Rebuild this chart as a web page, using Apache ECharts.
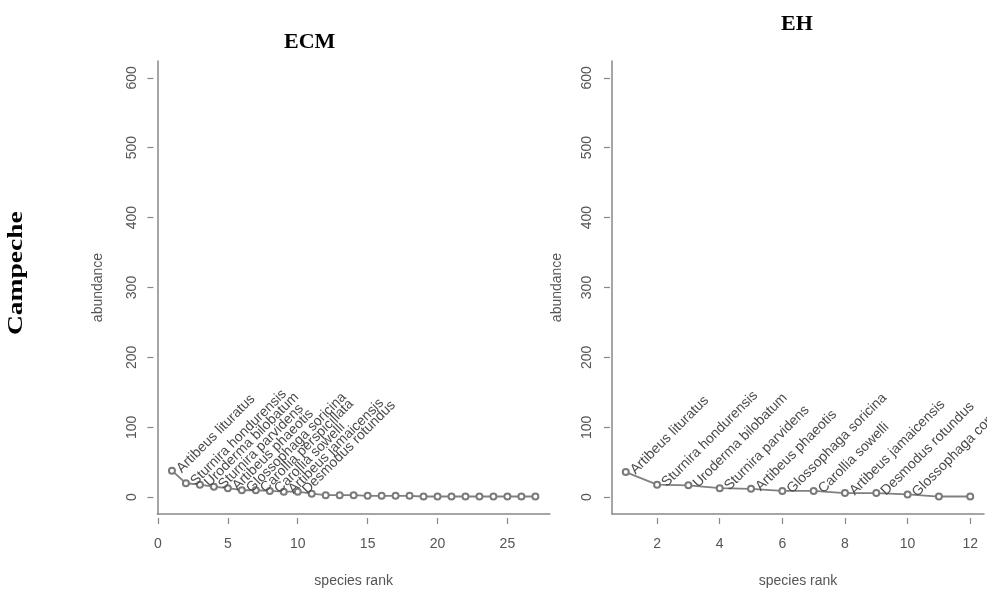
<!DOCTYPE html>
<html>
<head>
<meta charset="utf-8">
<title>Rank-abundance curves, Campeche</title>
<script src="https://cdn.jsdelivr.net/npm/echarts@6/dist/echarts.min.js"></script>
<style>
  html, body { margin: 0; padding: 0; background: #fff; }
  #chart { width: 987px; height: 590px; }
</style>
</head>
<body>
<div id="chart"></div>
<script>
// ECM panel: abundance by species rank
const ecmRanks = [1,2,3,4,5,6,7,8,9,10,11,12,13,14,15,16,17,18,19,20,21,22,23,24,25,26,27];
const ecmAbundance = [38,20,18,15,13,10,10,9,8,8,5,3,3,3,2,2,2,2,1,1,1,1,1,1,1,1,1];
const ecmSpecies = [
  'Artibeus lituratus', 'Sturnira hondurensis', 'Uroderma bilobatum', 'Sturnira parvidens',
  'Artibeus phaeotis', 'Glossophaga soricina', 'Carollia perspicillata', 'Carollia sowelli',
  'Artibeus jamaicensis', 'Desmodus rotundus'
];

// EH panel
const ehRanks = [1,2,3,4,5,6,7,8,9,10,11,12];
const ehAbundance = [36,18,17,13,12,9,9,6,6,4,1,1];
const ehSpecies = [
  'Artibeus lituratus', 'Sturnira hondurensis', 'Uroderma bilobatum', 'Sturnira parvidens',
  'Artibeus phaeotis', 'Glossophaga soricina', 'Carollia sowelli', 'Artibeus jamaicensis',
  'Desmodus rotundus', 'Glossophaga commissarisi'
];

// Tick labels
const ecmXTicks = [0,5,10,15,20,25];
const ehXTicks = [2,4,6,8,10,12];
const yTicks = [0,100,200,300,400,500,600];

const TEXT = '#555';
const LINE = '#888';
const FONT = 'Liberation Sans, Arial, sans-serif';

// axis range padded by 4% on each side
function padRange(lo, hi) {
  const d = (hi - lo) * 0.04;
  return [lo - d, hi + d];
}
const ecmX = padRange(ecmRanks[0], ecmRanks[ecmRanks.length - 1]);
const ehX = padRange(ehRanks[0], ehRanks[ehRanks.length - 1]);
const yR = padRange(yTicks[0], yTicks[yTicks.length - 1]);

// plain L-shaped frame along the grid edge
function frameAxis(grid, range, isY) {
  return {
    type: 'value', gridIndex: grid, min: range[0], max: range[1],
    position: isY ? 'left' : 'bottom',
    axisLine: { show: true, onZero: false, lineStyle: { color: LINE, width: 1.5 } },
    axisTick: { show: false }, axisLabel: { show: false }, splitLine: { show: false }
  };
}
// detached ticks, tick labels and axis title
function tickAxis(grid, range, ticks, name, isY, offset, margin, nameGap) {
  return {
    type: 'value', gridIndex: grid, min: range[0], max: range[1],
    position: isY ? 'left' : 'bottom',
    offset: offset,
    name: name, nameLocation: 'middle', nameGap: nameGap,
    nameTextStyle: { color: TEXT, fontSize: 14, fontFamily: FONT },
    axisLine: { show: false, onZero: false },
    axisTick: { show: true, length: 6, customValues: ticks, lineStyle: { color: LINE, width: 1.2 } },
    axisLabel: {
      show: true, customValues: ticks, color: TEXT, fontSize: 14, fontFamily: FONT,
      margin: margin, rotate: isY ? 90 : 0
    },
    splitLine: { show: false }
  };
}

function seriesFor(xi, yi, ranks, values, names) {
  return {
    type: 'line', xAxisIndex: xi, yAxisIndex: yi,
    data: ranks.map((r, i) => [r, values[i]]),
    symbol: 'emptyCircle', symbolSize: 6,
    lineStyle: { color: '#808080', width: 1.8 },
    itemStyle: { color: '#7a7a7a', borderWidth: 1.2 },
    label: {
      show: true, position: 'right', distance: 3, rotate: 45,
      color: '#4a4a4a', fontSize: 14, fontFamily: FONT,
      align: 'left', verticalAlign: 'middle',
      formatter: p => names[p.dataIndex] || ''
    },
    animation: false, silent: true
  };
}

const chart = echarts.init(document.getElementById('chart'), null, { renderer: 'canvas' });
chart.setOption({
  backgroundColor: '#fff',
  animation: false,
  grid: [
    { left: 157.4, top: 61, width: 392.5, height: 453, containLabel: false, outerBoundsMode: 'none' },
    { left: 612, top: 61, width: 372, height: 453, containLabel: false, outerBoundsMode: 'none' }
  ],
  xAxis: [
    frameAxis(0, ecmX, false),
    tickAxis(0, ecmX, ecmXTicks, 'species rank', false, 4, 19, 56),
    frameAxis(1, ehX, false),
    tickAxis(1, ehX, ehXTicks, 'species rank', false, 4, 19, 56)
  ],
  yAxis: [
    frameAxis(0, yR, true),
    tickAxis(0, yR, yTicks, 'abundance', true, 4, 14, 48),
    frameAxis(1, yR, true),
    tickAxis(1, yR, yTicks, 'abundance', true, 2, 16, 46)
  ],
  series: [
    seriesFor(0, 0, ecmRanks, ecmAbundance, ecmSpecies),
    seriesFor(2, 2, ehRanks, ehAbundance, ehSpecies)
  ],
  graphic: [
    { type: 'text', left: 284, top: 31, style: { text: 'ECM', fill: '#000', font: 'bold 22px "Liberation Serif", serif' } },
    { type: 'text', left: 781, top: 13, style: { text: 'EH', fill: '#000', font: 'bold 22px "Liberation Serif", serif' } },
    { type: 'text', x: 5, y: 335, rotation: Math.PI / 2, scaleX: 1.25,
      style: { text: 'Campeche', fill: '#000', font: 'bold 22px "Liberation Serif", serif', textVerticalAlign: 'top' } }
  ]
});
</script>
</body>
</html>
